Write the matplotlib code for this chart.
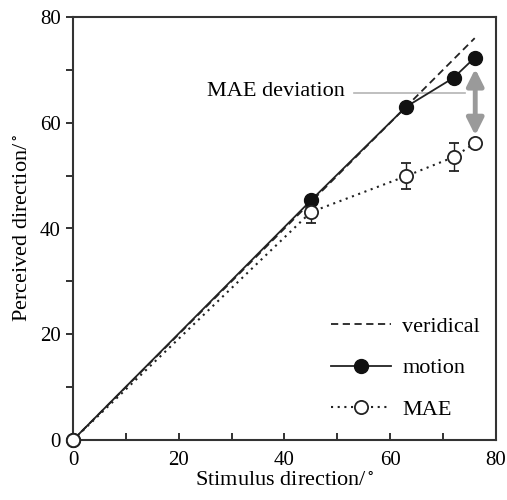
import numpy as np
import matplotlib
matplotlib.use('Agg')
import matplotlib.pyplot as plt

plt.rcParams['font.family'] = ['Liberation Serif', 'DejaVu Serif']
plt.rcParams['mathtext.fontset'] = 'stix'

# data
stim = [0, 45, 63, 72, 76]
motion = [0, 45.3, 63.0, 68.5, 72.3]
mae = [0, 43.1, 49.9, 53.5, 56.1]
mae_err = [0, 2.0, 2.4, 2.7, 0]
verid = [0, 76]

fig = plt.figure(figsize=(5.07, 5.00), dpi=100)
ax = fig.add_axes([0.144, 0.12, 0.834, 0.846])

ax.plot(verid, verid, color='#222222', ls=(0, (4, 2.5)), lw=1.3, label='veridical')
ax.plot(stim, motion, color='#222222', lw=1.3, marker='o', ms=10,
        mfc='#111111', mec='#111111', label='motion', clip_on=False, zorder=3)
ax.errorbar(stim[1:4], mae[1:4], yerr=mae_err[1:4], fmt='none', ecolor='#222222',
            elinewidth=1.0, capsize=3.5, capthick=1.3, zorder=2)
ax.plot(stim, mae, color='#222222', lw=1.5, ls=(0, (1, 2.2)), marker='o', ms=9.5,
        mfc='white', mec='#222222', mew=1.3, label='MAE', clip_on=False, zorder=4)

# MAE deviation marker
ax.text(51.5, 66, 'MAE deviation', ha='right', va='center', fontsize=16)
ax.plot([53.2, 74.2], [65.6, 65.6], color='#b4b4b4', lw=1.2)
ax.annotate('', xy=(76.1, 57.6), xytext=(76.1, 70.2),
            arrowprops=dict(arrowstyle='<|-|>,head_width=0.5,head_length=1.0',
                            color='#9a9a9a', lw=3.5, shrinkA=0, shrinkB=0))

ax.set_xlim(0, 80)
ax.set_ylim(0, 80)
ax.set_xticks([0, 20, 40, 60, 80])
ax.set_yticks([0, 20, 40, 60, 80])
ax.set_xticks([10, 30, 50, 70], minor=True)
ax.set_yticks([10, 30, 50, 70], minor=True)
ax.tick_params(axis='x', which='both', direction='in', length=5, width=1.3,
               labelsize=15, pad=8, colors='#222222', labelcolor='black')
ax.tick_params(axis='y', which='both', direction='out', length=5, width=1.3,
               labelsize=15, pad=4, colors='#222222', labelcolor='black')
for s in ax.spines.values():
    s.set_linewidth(1.5)
    s.set_color('#333333')

ax.set_xlabel(r'Stimulus direction/$^\circ$', fontsize=16, labelpad=1)
ax.set_ylabel(r'Perceived direction/$^\circ$', fontsize=16, labelpad=5)

ax.legend(loc='lower right', frameon=False, fontsize=16, handlelength=2.7,
          labelspacing=0.95, handletextpad=0.5, bbox_to_anchor=(1.01, 0.0),
          markerscale=1.0)

fig.savefig('out.png', dpi=100)
